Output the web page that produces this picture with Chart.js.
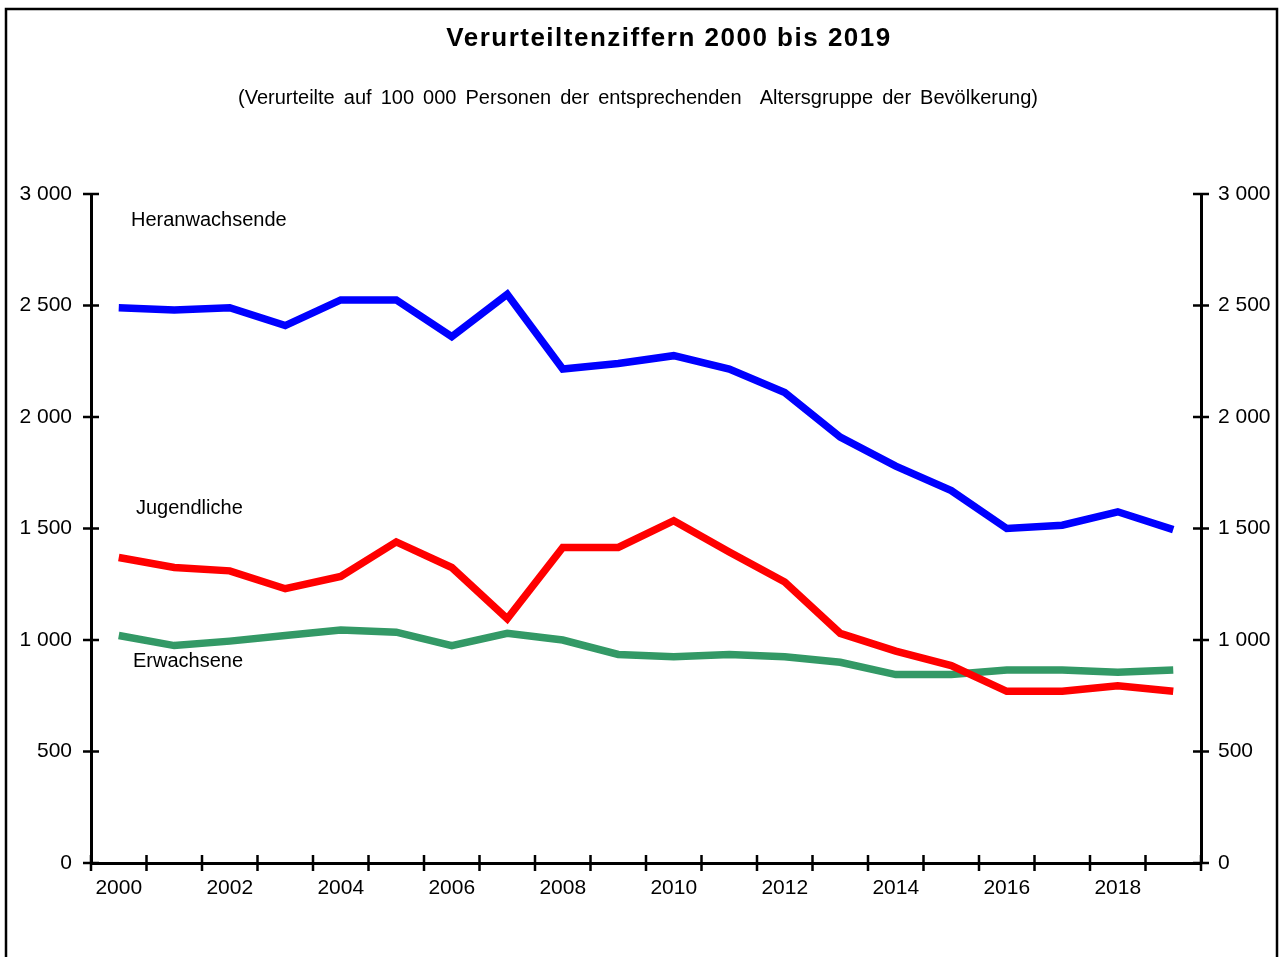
<!DOCTYPE html>
<html>
<head>
<meta charset="utf-8">
<script src="https://cdn.jsdelivr.net/npm/chart.js@4"></script>
<style>
html, body { margin: 0; padding: 0; background: #fff; }
#wrap { position: relative; width: 1279px; height: 957px; }
</style>
</head>
<body>
<div id="wrap"><canvas id="myChart" width="1279" height="957"></canvas></div>
<script>
// Jahre (Kategorien)
const jahre = ['2000', '2001', '2002', '2003', '2004', '2005', '2006', '2007', '2008', '2009',
               '2010', '2011', '2012', '2013', '2014', '2015', '2016', '2017', '2018', '2019'];

// Verurteilte auf 100 000 Personen
const heranwachsende = [2490, 2480, 2490, 2410, 2525, 2525, 2360, 2550, 2215, 2240,
                        2275, 2215, 2110, 1910, 1780, 1670, 1500, 1515, 1575, 1495];
const jugendliche = [1370, 1325, 1310, 1230, 1285, 1440, 1325, 1095, 1415, 1415,
                     1535, 1395, 1260, 1030, 950, 885, 770, 770, 795, 770];
const erwachsene = [1020, 975, 995, 1020, 1045, 1035, 975, 1030, 1000, 935,
                    925, 935, 925, 900, 845, 845, 865, 865, 855, 865];

// Achsenwerte
const yWerte = [0, 500, 1000, 1500, 2000, 2500, 3000];

const titel = 'Verurteiltenziffern 2000 bis 2019';
const untertitel = '(Verurteilte auf 100 000 Personen der entsprechenden  Altersgruppe der Bevölkerung)';

const schrift = '"Liberation Sans", Arial, sans-serif';

// Zahlen mit Leerzeichen als Tausendertrenner
function formatZahl(v) {
    if (v >= 1000) {
        return Math.floor(v / 1000) + ' ' + String(v % 1000).padStart(3, '0');
    }
    return String(v);
}

// Rahmen, Titel, Beschriftungen und Achsenstriche
const extras = {
    id: 'extras',
    afterDraw(chart) {
        const ctx = chart.ctx;
        const area = chart.chartArea;
        const x = chart.scales.x;
        const y = chart.scales.y;

        ctx.save();
        // Rahmen
        ctx.strokeStyle = '#000';
        ctx.lineWidth = 2.5;
        ctx.strokeRect(6, 9, 1271, 1200);

        // Titel
        ctx.fillStyle = '#000';
        ctx.textAlign = 'center';
        ctx.textBaseline = 'middle';
        ctx.font = 'bold 26px ' + schrift;
        ctx.letterSpacing = '1.5px';
        ctx.fillText(titel, 669, 39);
        ctx.letterSpacing = '0px';
        ctx.font = '20px ' + schrift;
        ctx.wordSpacing = '3.5px';
        ctx.fillText(untertitel, 638, 98);
        ctx.wordSpacing = '0px';

        // Reihennamen
        ctx.textAlign = 'left';
        ctx.font = '20px ' + schrift;
        ctx.fillText('Heranwachsende', area.left + 40, y.getPixelForValue(2880));
        ctx.fillText('Jugendliche', area.left + 45, y.getPixelForValue(1590));
        ctx.fillText('Erwachsene', area.left + 42, y.getPixelForValue(905));

        // Striche quer über die Achsen
        ctx.lineWidth = 2.5;
        ctx.beginPath();
        yWerte.forEach(v => {
            const py = y.getPixelForValue(v);
            ctx.moveTo(area.left - 8, py);
            ctx.lineTo(area.left + 8, py);
            ctx.moveTo(area.right - 8, py);
            ctx.lineTo(area.right + 8, py);
        });
        for (let i = 0; i <= jahre.length; i++) {
            const px = x.getPixelForValue(i - 0.5);
            ctx.moveTo(px, area.bottom - 8);
            ctx.lineTo(px, area.bottom + 8);
        }
        ctx.stroke();
        ctx.restore();
    }
};

const ctx = document.getElementById('myChart').getContext('2d');

const myChart = new Chart(ctx, {
    type: 'line',
    data: {
        labels: jahre,
        datasets: [
            { label: 'Heranwachsende', data: heranwachsende, borderColor: '#0000FF' },
            { label: 'Jugendliche', data: jugendliche, borderColor: '#FF0000' },
            { label: 'Erwachsene', data: erwachsene, borderColor: '#339966' }
        ]
    },
    options: {
        responsive: false,
        animation: false,
        devicePixelRatio: 1,
        layout: { padding: { top: 194, left: 0, right: 0, bottom: 0 } },
        elements: {
            line: { borderWidth: 7.5, tension: 0, fill: false },
            point: { radius: 0, hoverRadius: 0 }
        },
        plugins: {
            legend: { display: false },
            title: { display: false },
            tooltip: { enabled: false }
        },
        scales: {
            x: {
                type: 'category',
                offset: true,
                grid: { display: false, tickLength: 8 },
                border: { display: true, color: '#000', width: 3 },
                ticks: {
                    autoSkip: false,
                    maxRotation: 0,
                    color: '#000',
                    padding: 5,
                    font: { family: schrift, size: 21 },
                    callback: (v, i) => i % 2 === 0 ? jahre[i] : ''
                },
                afterFit: s => { s.height = 94; }
            },
            y: {
                position: 'left',
                min: 0,
                max: 3000,
                grid: { display: false, tickLength: 8 },
                border: { display: true, color: '#000', width: 3 },
                ticks: {
                    stepSize: 500,
                    color: '#000',
                    padding: 11,
                    font: { family: schrift, size: 21 },
                    callback: v => formatZahl(v)
                },
                afterFit: s => { s.width = 91; }
            },
            y2: {
                position: 'right',
                min: 0,
                max: 3000,
                grid: { display: false, tickLength: 8 },
                border: { display: true, color: '#000', width: 3 },
                ticks: {
                    stepSize: 500,
                    color: '#000',
                    padding: 9,
                    font: { family: schrift, size: 21 },
                    callback: v => formatZahl(v)
                },
                afterFit: s => { s.width = 78; }
            }
        }
    },
    plugins: [extras]
});
</script>
</body>
</html>
